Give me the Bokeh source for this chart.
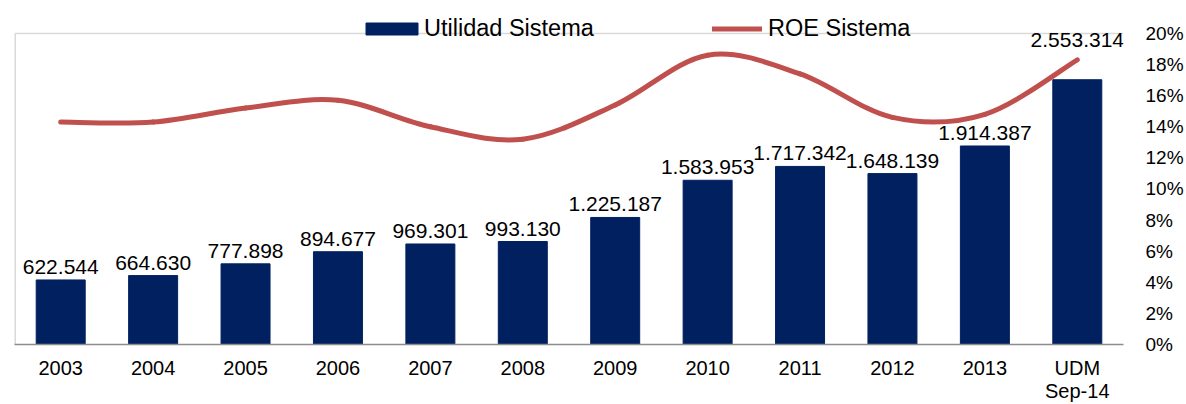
from bokeh.plotting import figure
from bokeh.models import (Range1d, LinearAxis, FixedTicker, PrintfTickFormatter,
                          Legend, LegendItem, ColumnDataSource)
from bokeh.core.properties import value
from bokeh.embed import file_html
from bokeh.resources import INLINE

# ---- data ----
categories = ["2003", "2004", "2005", "2006", "2007", "2008", "2009", "2010",
              "2011", "2012", "2013", "UDM\nSep-14"]
utilidad = [622544, 664630, 777898, 894677, 969301, 993130, 1225187, 1583953,
            1717342, 1648139, 1914387, 2553314]
roe = [14.3, 14.3, 15.2, 15.7, 14.0, 13.2, 15.4, 18.6, 17.4, 14.6, 14.8, 18.3]
roe_ticks = [0, 2, 4, 6, 8, 10, 12, 14, 16, 18, 20]

NAVY = "#002060"
RED = "#C0504D"
FONT = "Liberation Sans"
FRAME_GRAY = "#d9d9d9"

# layout: plot area ~312 px tall; frame extends 25 px higher to hold the legend
ROE_MAX = 20
BAR_MAX = 3000000
HEADROOM = 337 / 312

xs = list(range(len(categories)))
labels = [f"{v:,}".replace(",", ".") for v in utilidad]
n = len(xs)

p = figure(width=1186, height=404, output_backend="svg", toolbar_location=None,
           x_range=Range1d(-0.5, n - 0.5), y_range=Range1d(0, ROE_MAX * HEADROOM),
           x_axis_location=None, y_axis_location=None,
           min_border_left=14, min_border_top=8, min_border_right=60,
           min_border_bottom=59)
p.extra_y_ranges = {"bars": Range1d(0, BAR_MAX * HEADROOM)}
p.xgrid.visible = False
p.ygrid.visible = False
p.outline_line_color = None
p.background_fill_color = "white"

# plot-area border (top and left only, light gray)
p.segment(x0=[-0.5, -0.5], y0=[ROE_MAX, 0], x1=[n - 0.5, -0.5], y1=[ROE_MAX, ROE_MAX],
          line_color=FRAME_GRAY, line_width=[1.5, 3])

# bars
bar_src = ColumnDataSource(dict(x=xs, top=utilidad, label=labels))
bars = p.vbar(x="x", top="top", width=0.53, source=bar_src, y_range_name="bars",
              fill_color=NAVY, line_color=NAVY)

# data labels
p.text(x=xs[:n - 1], y=utilidad[:n - 1], text=labels[:n - 1], y_range_name="bars",
       text_align="center", text_baseline="alphabetic", y_offset=-13,
       text_font=value(FONT), text_font_size="21px", text_color="black")
p.text(x=xs[n - 1:], y=utilidad[n - 1:], text=labels[n - 1:], y_range_name="bars",
       text_align="center", text_baseline="alphabetic", y_offset=-40,
       text_font=value(FONT), text_font_size="21px", text_color="black")

# smoothed ROE line (Catmull-Rom -> cubic Bezier, as Excel smoothing)
x0, y0, x1, y1, cx0, cy0, cx1, cy1 = ([] for _ in range(8))
for i in range(n - 1):
    a = max(i - 1, 0)
    b = min(i + 2, n - 1)
    x0.append(xs[i]); y0.append(roe[i])
    x1.append(xs[i + 1]); y1.append(roe[i + 1])
    cx0.append(xs[i] + (xs[i + 1] - xs[a]) / 6)
    cy0.append(roe[i] + (roe[i + 1] - roe[a]) / 6)
    cx1.append(xs[i + 1] - (xs[b] - xs[i]) / 6)
    cy1.append(roe[i + 1] - (roe[b] - roe[i]) / 6)
roe_line = p.bezier(x0=x0, y0=y0, x1=x1, y1=y1, cx0=cx0, cy0=cy0, cx1=cx1, cy1=cy1,
                    line_color=RED, line_width=5, line_cap="round")

# axes
xaxis = LinearAxis(ticker=FixedTicker(ticks=xs),
                   major_label_overrides={i: c for i, c in zip(xs, categories)})
xaxis.axis_line_color = "#8c8c8c"
xaxis.axis_line_width = 1.5
xaxis.major_tick_line_color = None
xaxis.minor_tick_line_color = None
xaxis.major_label_standoff = 6
xaxis.major_label_text_font = FONT
xaxis.major_label_text_font_size = "20px"
xaxis.major_label_text_color = "black"
xaxis.major_label_text_line_height = 1.05
p.add_layout(xaxis, "below")

raxis = LinearAxis(ticker=FixedTicker(ticks=roe_ticks),
                   formatter=PrintfTickFormatter(format="%d%%"))
raxis.axis_line_color = None
raxis.major_tick_line_color = None
raxis.minor_tick_line_color = None
raxis.major_label_standoff = 16
raxis.major_label_text_font = FONT
raxis.major_label_text_font_size = "19px"
raxis.major_label_text_color = "black"
p.add_layout(raxis, "right")

# legends (two, so each symbol can have its own size)
common = dict(orientation="horizontal", padding=0, margin=0, glyph_height=15,
              label_height=20, border_line_alpha=0, background_fill_alpha=0,
              label_text_font=FONT, label_text_font_size="23.5px",
              label_text_color="black")
leg_a = Legend(items=[LegendItem(label="Utilidad Sistema", renderers=[bars])],
               location=(345, 302), glyph_width=65, label_standoff=0, **common)
leg_b = Legend(items=[LegendItem(label="ROE Sistema", renderers=[roe_line])],
               location=(698, 302), glyph_width=50, label_standoff=6, **common)
p.add_layout(leg_a, "center")
p.add_layout(leg_b, "center")

open("out.html", "w").write(file_html(p, INLINE))
